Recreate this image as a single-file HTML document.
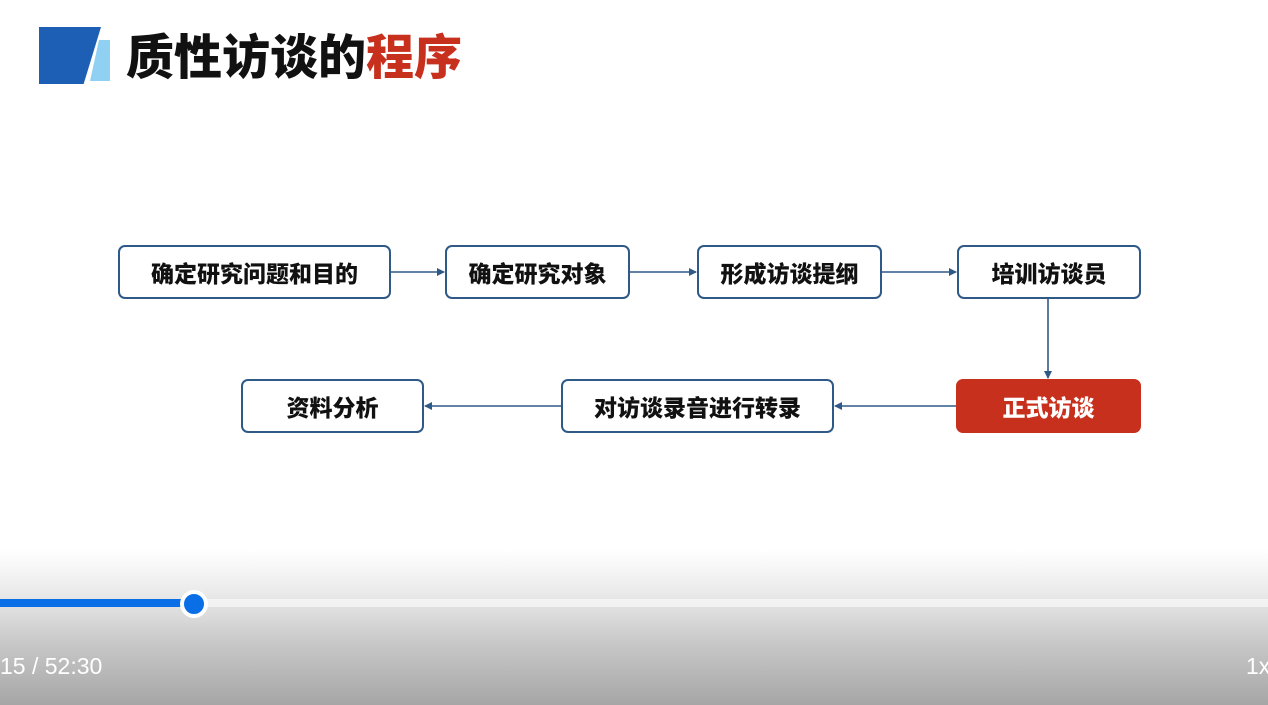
<!DOCTYPE html>
<html><head><meta charset="utf-8"><style>
body{margin:0;width:1268px;height:705px;overflow:hidden;background:#fff;position:relative;font-family:"Liberation Sans","Noto Sans CJK SC",sans-serif}
.b{position:absolute;box-sizing:border-box;border:2px solid #2f5a88;border-radius:7px;display:flex;align-items:center;justify-content:center;font-weight:900;font-size:23px;color:#111;background:#fff}
.r{background:#c8301e;border-color:#c8301e;color:#fff}
</style></head><body>
<div style="position:absolute;left:39px;top:27px;width:62px;height:57px;background:#1d5fb5;clip-path:polygon(0 0,100% 0,72% 100%,0 100%)"></div>
<div style="position:absolute;left:90px;top:40px;width:20px;height:41px;background:#8fd0f3;clip-path:polygon(45% 0,100% 0,100% 100%,0 100%)"></div>
<div style="position:absolute;left:126px;top:28px;font-size:48px;font-weight:900;color:#111;line-height:62px">质性访谈的<span style="color:#c8301e">程序</span></div>

<div class="b" style="left:118px;top:245px;width:273px;height:54px">确定研究问题和目的</div>
<div class="b" style="left:445px;top:245px;width:185px;height:54px">确定研究对象</div>
<div class="b" style="left:697px;top:245px;width:185px;height:54px">形成访谈提纲</div>
<div class="b" style="left:957px;top:245px;width:184px;height:54px">培训访谈员</div>
<div class="b" style="left:241px;top:379px;width:183px;height:54px">资料分析</div>
<div class="b" style="left:561px;top:379px;width:273px;height:54px">对访谈录音进行转录</div>
<div class="b r" style="left:956px;top:379px;width:185px;height:54px">正式访谈</div>

<svg width="1268" height="705" style="position:absolute;left:0;top:0">
<defs><marker id="a" markerWidth="8" markerHeight="8" refX="7" refY="4" orient="auto" markerUnits="userSpaceOnUse"><path d="M0,0 L8,4 L0,8z" fill="#2f5a88"/></marker></defs>
<g stroke="#2f5a88" stroke-width="1.6" marker-end="url(#a)">
<line x1="391" y1="272" x2="444" y2="272"/>
<line x1="630" y1="272" x2="696" y2="272"/>
<line x1="882" y1="272" x2="956" y2="272"/>
<line x1="1048" y1="299" x2="1048" y2="378"/>
<line x1="956" y1="406" x2="835" y2="406"/>
<line x1="561" y1="406" x2="425" y2="406"/>
</g></svg>

<div style="position:absolute;left:0;top:550px;width:1268px;height:155px;background:linear-gradient(to bottom,rgba(255,255,255,0) 0%,#e8e8e8 30%,#c8c8c8 60%,#a6a6a6 100%)"></div>
<div style="position:absolute;left:0;top:599px;width:1268px;height:8px;background:rgba(255,255,255,.55)"></div>
<div style="position:absolute;left:0;top:599px;width:193px;height:8px;background:#0a6fe6"></div>
<div style="position:absolute;left:180px;top:590px;width:20px;height:20px;border-radius:50%;background:#0a6fe6;border:4px solid #fff"></div>
<div style="position:absolute;left:0;top:653px;font-size:23px;color:#fff">15 / 52:30</div>
<div style="position:absolute;left:1246px;top:653px;font-size:23px;color:#fff">1x</div>
</body></html>
